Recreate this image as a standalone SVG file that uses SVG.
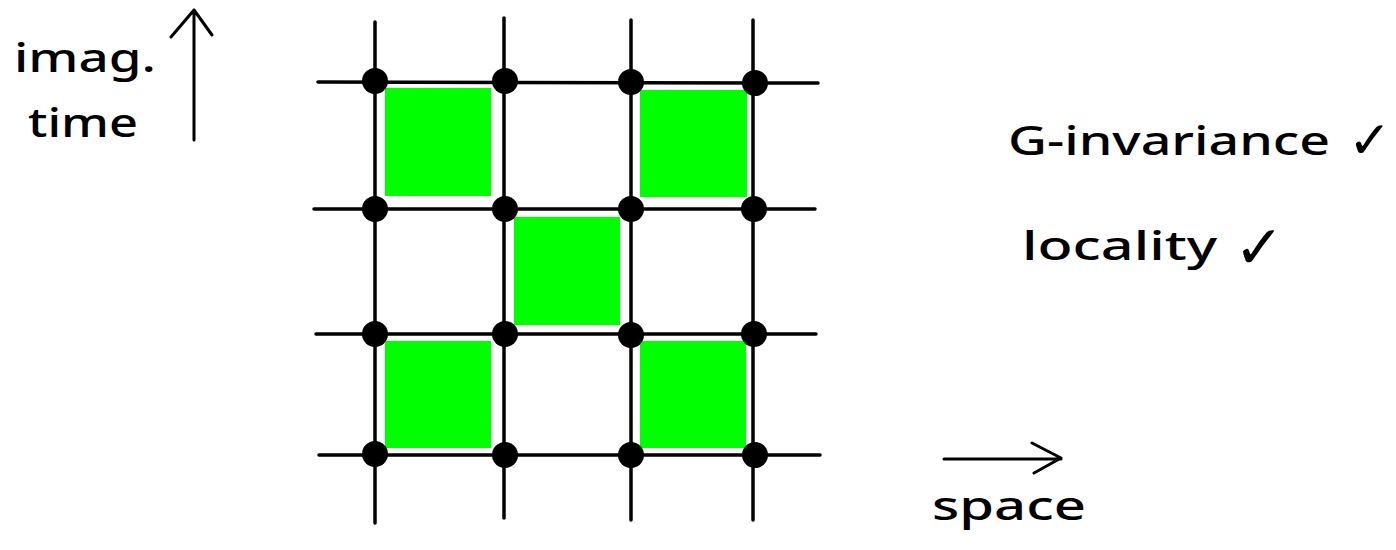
<svg xmlns="http://www.w3.org/2000/svg" width="1396" height="550" viewBox="0 0 1396 550">
<style>
.ln{stroke:#000;stroke-width:3.5;stroke-linecap:round;fill:none}
.ar{stroke:#000;stroke-width:3;stroke-linecap:round;stroke-linejoin:round;fill:none}
.dot{fill:#000}
.sq{fill:#00ff00}
.t{font-family:"Noto Sans","DejaVu Sans",sans-serif;fill:#000}
.ck{font-family:"DejaVu Sans",sans-serif}
</style>
<rect width="1396" height="550" fill="#fff"/>
<g id="plaquettes">
<rect class="sq" x="385" y="88" width="106" height="108"/>
<rect class="sq" x="640" y="90" width="107" height="107"/>
<rect class="sq" x="514" y="217" width="106" height="108"/>
<rect class="sq" x="385" y="341" width="106" height="107"/>
<rect class="sq" x="640" y="341" width="106" height="107"/>
</g>
<g id="connectors">
<line class="ln" x1="375" y1="22" x2="375" y2="523"/>
<line class="ln" x1="504" y1="18" x2="504" y2="518"/>
<line class="ln" x1="631" y1="20" x2="631" y2="520"/>
<line class="ln" x1="753" y1="20" x2="753" y2="520"/>
<line class="ln" x1="318" y1="82" x2="818" y2="83"/>
<line class="ln" x1="314" y1="209" x2="815" y2="209"/>
<line class="ln" x1="316" y1="334" x2="816" y2="334"/>
<line class="ln" x1="319" y1="455" x2="820" y2="455"/>
</g>
<g id="sites">
<circle class="dot" cx="375" cy="81" r="13"/>
<circle class="dot" cx="505" cy="81" r="13"/>
<circle class="dot" cx="631" cy="82" r="13"/>
<circle class="dot" cx="755" cy="83" r="13"/>
<circle class="dot" cx="375" cy="209" r="13"/>
<circle class="dot" cx="505" cy="209" r="13"/>
<circle class="dot" cx="631" cy="209" r="13"/>
<circle class="dot" cx="754" cy="209" r="13"/>
<circle class="dot" cx="375" cy="334" r="13"/>
<circle class="dot" cx="505" cy="334" r="13"/>
<circle class="dot" cx="631" cy="335" r="13"/>
<circle class="dot" cx="754" cy="334" r="13"/>
<circle class="dot" cx="375" cy="454" r="13"/>
<circle class="dot" cx="505" cy="455" r="13"/>
<circle class="dot" cx="631" cy="455" r="13"/>
<circle class="dot" cx="755" cy="455" r="13"/>
</g>
<g id="time-axis">
<path class="ar" d="M194 140 L194 10 M171 37 L194 10 L212 35"/>
<text class="t" x="14" y="72" font-size="40" font-weight="500" textLength="142" lengthAdjust="spacingAndGlyphs">imag.</text>
<text class="t" x="28" y="137" font-size="40" font-weight="500" textLength="110" lengthAdjust="spacingAndGlyphs">time</text>
</g>
<g id="space-axis">
<path class="ar" d="M944 459 L1061 459 M1032 443 L1061 458 L1034 473"/>
<text class="t" x="932" y="520" font-size="40" font-weight="500" textLength="154" lengthAdjust="spacingAndGlyphs">space</text>
</g>
<g id="properties">
<text class="t" x="1008" y="155" font-size="40" font-weight="500"><tspan textLength="322" lengthAdjust="spacingAndGlyphs">G-invariance</tspan><tspan class="ck" x="1348" y="158" font-size="52">✓</tspan></text>
<text class="t" x="1022" y="260" font-size="40" font-weight="500"><tspan textLength="195" lengthAdjust="spacingAndGlyphs">locality</tspan><tspan class="ck" x="1234" y="268" font-size="60">✓</tspan></text>
</g>
</svg>
